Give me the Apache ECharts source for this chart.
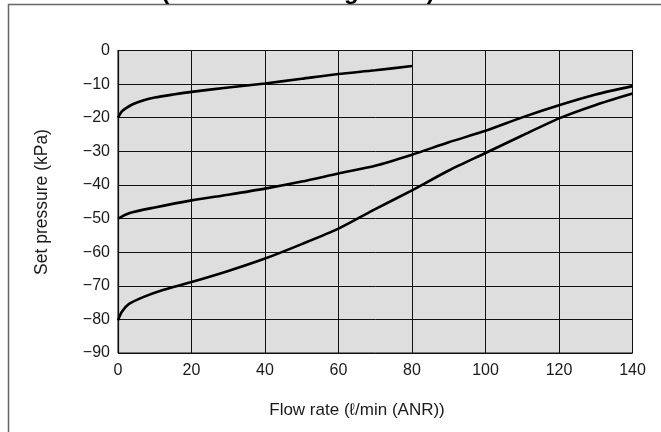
<!DOCTYPE html>
<html>
<head>
<meta charset="utf-8">
<script src="https://cdn.jsdelivr.net/npm/echarts@6/dist/echarts.min.js"></script>
<style>
html,body{margin:0;padding:0;background:#fff;}
#c{width:661px;height:432px;}
</style>
</head>
<body>
<div id="c"></div>
<script>
// Data
const xTicks = [0, 20, 40, 60, 80, 100, 120, 140];
const yTicks = [0, -10, -20, -30, -40, -50, -60, -70, -80, -90];

const flowTop = [0, 1, 2, 4, 7, 10, 15, 20, 30, 40, 50, 60, 70, 80];
const pressTop = [-20, -18.2, -17.3, -16, -14.8, -14, -13.1, -12.3, -11, -9.8, -8.4, -7, -5.9, -4.6];

const flowMid = [0, 3, 10, 20, 30, 40, 50, 60, 70, 80, 90, 100, 110, 120, 130, 140];
const pressMid = [-50, -48.4, -46.7, -44.6, -42.9, -41.1, -39, -36.6, -34.3, -31, -27.3, -23.9, -19.9, -16.3, -13.1, -10.6];

const flowLow = [0, 1, 3, 7, 12, 20, 30, 40, 50, 60, 70, 80, 90, 100, 110, 120, 130, 140];
const pressLow = [-80.3, -77.8, -75.4, -73.3, -71.3, -68.9, -65.6, -61.9, -57.6, -53, -47.2, -41.6, -35.7, -30.5, -25.3, -20.2, -16.2, -12.8];

const titleText = '(Standard setting value)';
const xName = 'Flow rate (\u2113/min (ANR))';
const yName = 'Set pressure (kPa)';

function pairs(xs, ys) { return xs.map((x, i) => [x, ys[i]]); }
function fmt(v) { return v < 0 ? '\u2212' + Math.abs(v) : String(v); }

const FONT = '"Liberation Sans", Arial, Helvetica, sans-serif';
const chart = echarts.init(document.getElementById('c'), null, { renderer: 'canvas' });

const lineStyle = { color: '#000', width: 2.6 };
function mkSeries(xs, ys) {
  return {
    type: 'line', data: pairs(xs, ys), smooth: 0.25,
    showSymbol: false, symbol: 'none', lineStyle: lineStyle, z: 5, silent: true
  };
}

chart.setOption({
  animation: false,
  backgroundColor: '#fff',
  textStyle: { fontFamily: FONT },
  grid: {
    left: 118, right: 28.5, top: 50.5, bottom: 79,
    show: true, backgroundColor: '#dedede', borderColor: '#111', borderWidth: 1
  },
  xAxis: {
    type: 'value', min: xTicks[0], max: xTicks[xTicks.length - 1], interval: 20,
    axisLine: { show: true, lineStyle: { color: '#111', width: 1.2 } },
    axisTick: { show: false },
    splitLine: { show: true, lineStyle: { color: '#111', width: 1 } },
    axisLabel: { color: '#1a1a1a', fontSize: 16, fontFamily: FONT, margin: 10, formatter: fmt }
  },
  yAxis: {
    type: 'value', min: yTicks[yTicks.length - 1], max: yTicks[0], interval: 10,
    axisLine: { show: true, lineStyle: { color: '#111', width: 1.2 } },
    axisTick: { show: false },
    splitLine: { show: true, lineStyle: { color: '#111', width: 1 } },
    axisLabel: { color: '#1a1a1a', fontSize: 16, fontFamily: FONT, margin: 8, formatter: fmt }
  },
  series: [
    mkSeries(flowTop, pressTop),
    mkSeries(flowMid, pressMid),
    mkSeries(flowLow, pressLow)
  ],
  graphic: [
    {
      type: 'rect', z: 0, silent: true,
      shape: { x: 8.5, y: 4.5, width: 720, height: 500 },
      style: { fill: 'none', stroke: '#666', lineWidth: 1.5 }
    },
    {
      type: 'text', silent: true, x: 298, y: -20,
      style: { text: titleText, font: 'bold 24px ' + FONT, fill: '#000', textAlign: 'center', textVerticalAlign: 'top' }
    },
    {
      type: 'text', silent: true, x: 357, y: 410,
      style: { text: xName, font: '17px ' + FONT, fill: '#1a1a1a', textAlign: 'center', textVerticalAlign: 'middle' }
    },
    {
      type: 'text', silent: true, x: 42, y: 202, rotation: Math.PI / 2,
      style: { text: yName, font: '17.5px ' + FONT, fill: '#1a1a1a', textAlign: 'center', textVerticalAlign: 'middle' }
    }
  ]
});
</script>
</body>
</html>
